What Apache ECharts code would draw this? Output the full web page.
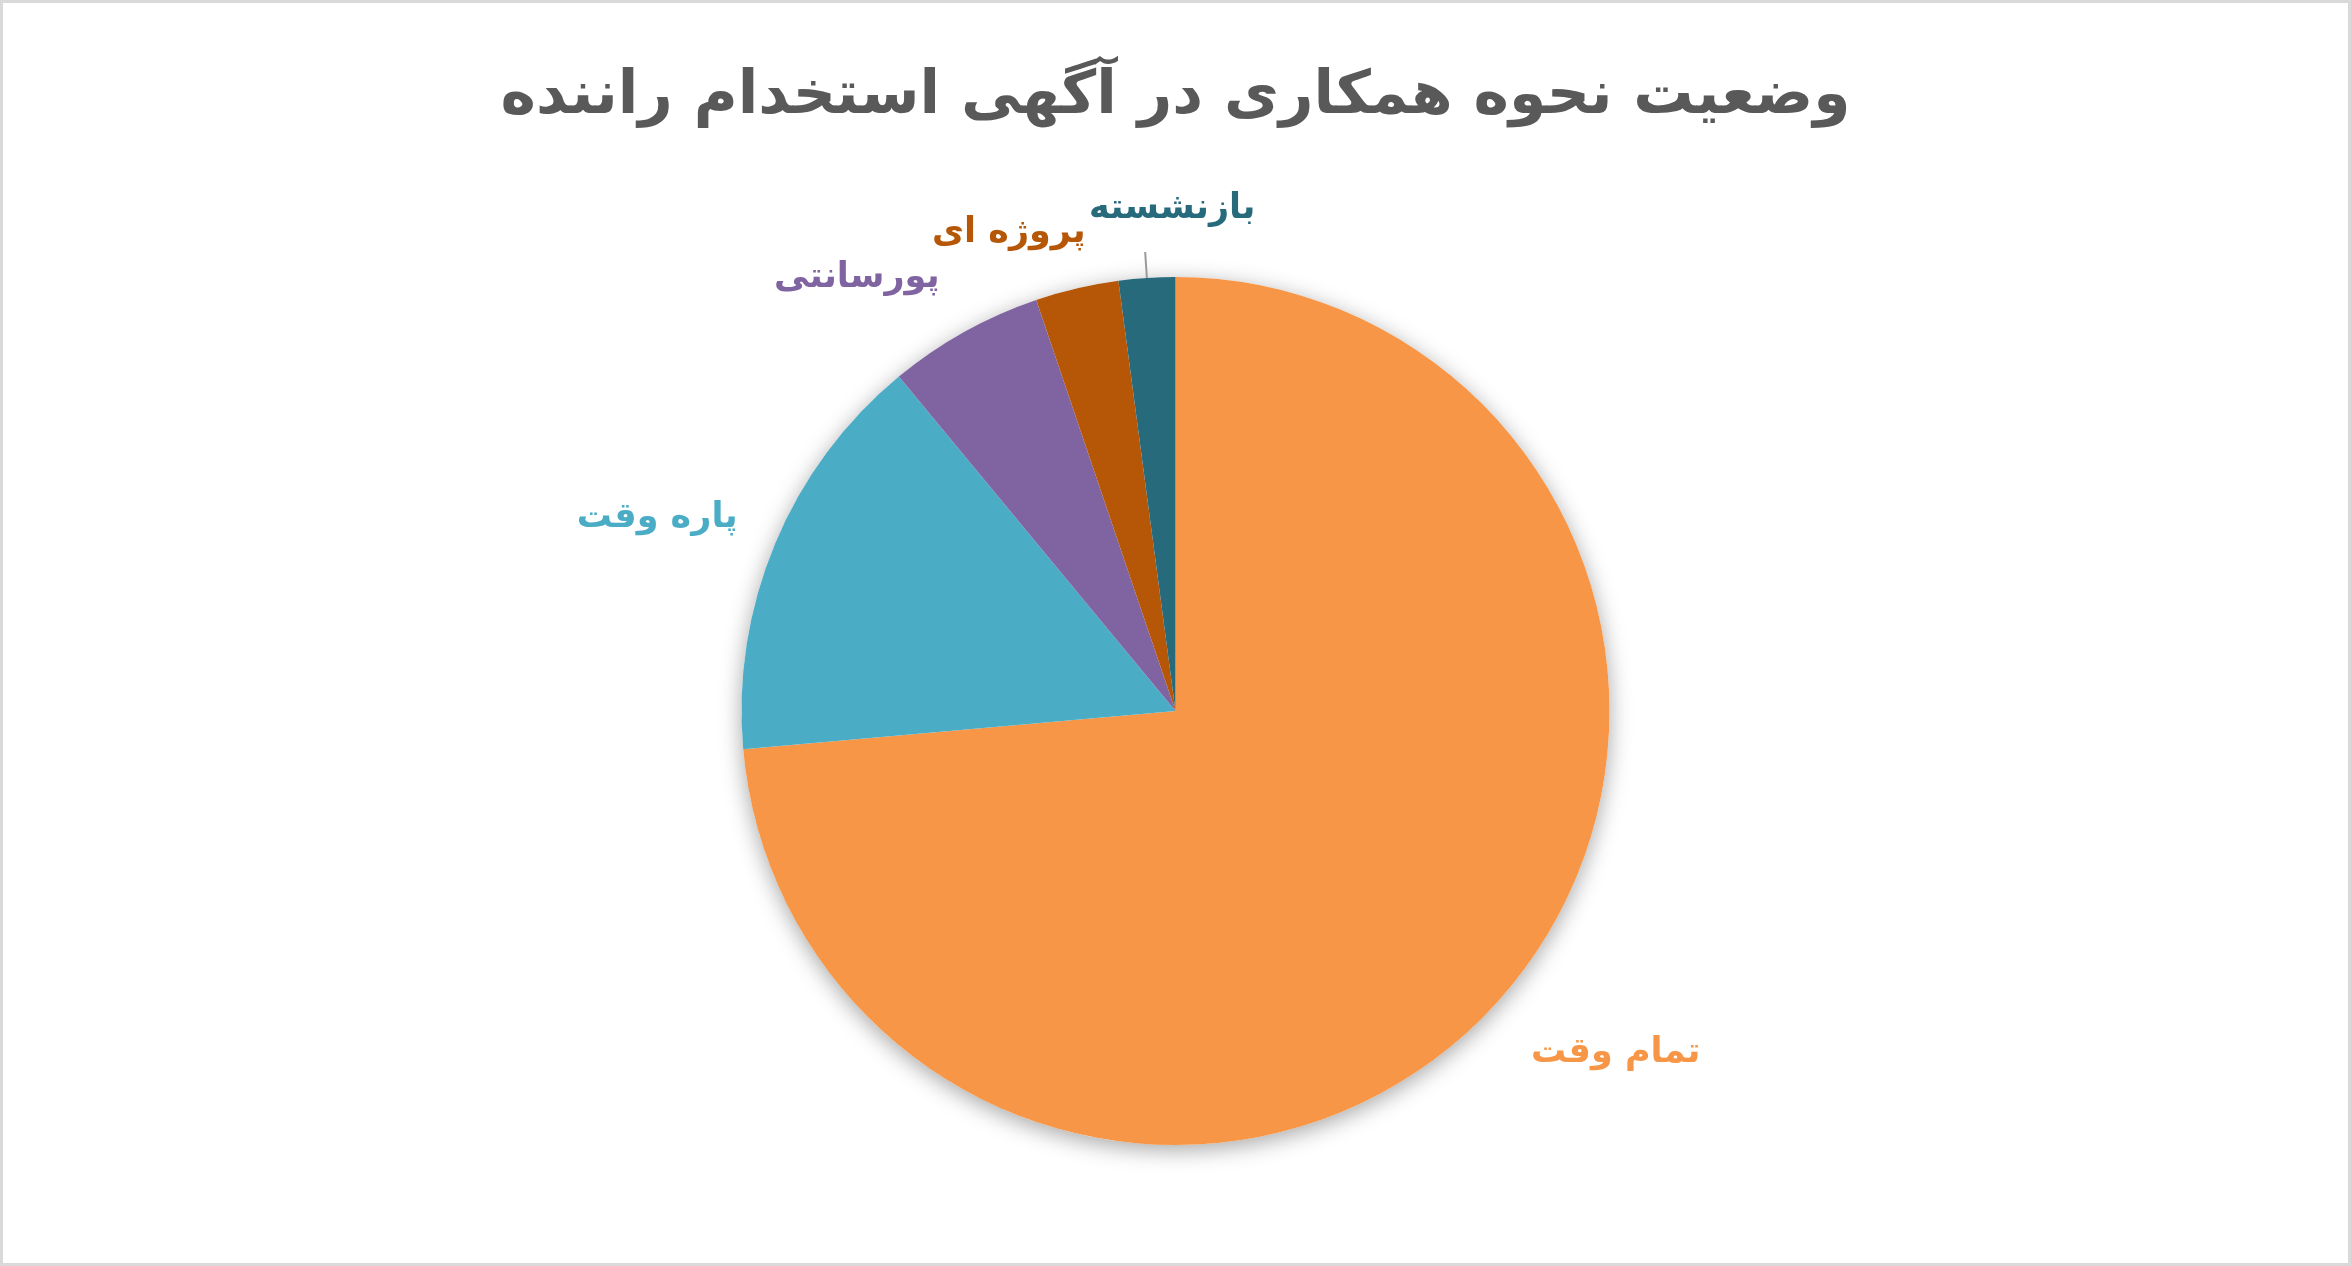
<!DOCTYPE html>
<html>
<head>
<meta charset="utf-8">
<title>وضعیت نحوه همکاری در آگهی استخدام راننده</title>
<script src="https://cdn.jsdelivr.net/npm/echarts@6/dist/echarts.min.js"></script>
<style>
  html, body { margin: 0; padding: 0; background: #fff; }
  #chart { width: 2351px; height: 1266px; }
</style>
</head>
<body>
<div id="chart"></div>
<script>
// داده‌ها (درصد، خوانده شده از تصویر)
const categories = ['تمام وقت', 'پاره وقت', 'پورسانتی', 'پروژه ای', 'بازنشسته'];
const values = [73.6, 15.4, 5.8, 3.1, 2.1];
const colors = ['#F79646', '#4BACC6', '#8064A2', '#B65708', '#276A7C'];

// طول خط راهنما برای جای برچسب‌ها (شبیه best fit اکسل)
const lineLen = [72, 66, 62, 57, 26];
const lineLen2 = [62, 52, 72, 50, 0];

const FONT = 'DejaVu Sans';
const chart = echarts.init(document.getElementById('chart'));

const pieData = categories.map(function (name, i) {
  return {
    name: name,
    value: values[i],
    itemStyle: { color: colors[i] },
    label: { color: colors[i] },
    labelLine: {
      show: i === 4,
      length: lineLen[i],
      length2: lineLen2[i],
      lineStyle: { color: '#9A9A9A', width: 2 }
    }
  };
});

const option = {
  backgroundColor: '#fff',
  animation: false,
  title: {
    text: 'وضعیت نحوه همکاری در آگهی استخدام راننده',
    left: 'center',
    top: 62,
    textStyle: {
      fontFamily: FONT,
      fontWeight: 'bold',
      fontSize: 60,
      color: '#595959'
    }
  },
  graphic: [{
    type: 'rect',
    shape: { x: 1.5, y: 1.5, width: 2348, height: 1263 },
    style: { fill: 'none', stroke: '#D9D9D9', lineWidth: 3 },
    silent: true
  }],
  series: [
    {
      // سایه زیر دایره
      type: 'pie',
      silent: true,
      center: ['50%', 711],
      radius: 434,
      z: 1,
      label: { show: false },
      labelLine: { show: false },
      data: [{
        value: 1,
        itemStyle: {
          color: '#fff',
          shadowBlur: 22,
          shadowColor: 'rgba(0,0,0,0.35)',
          shadowOffsetY: 5
        }
      }]
    },
    {
      type: 'pie',
      center: ['50%', 711],
      radius: 434,
      z: 2,
      startAngle: 90,
      clockwise: true,
      avoidLabelOverlap: false,
      label: {
        show: true,
        position: 'outside',
        formatter: '{b}',
        fontFamily: FONT,
        fontWeight: 'bold',
        fontSize: 35
      },
      labelLayout: function (p) {
        const o = { align: 'center' };
        if (p.dataIndex === 4) {
          o.verticalAlign = 'bottom';
          o.dx = 32;
          o.dy = -26;
        }
        return o;
      },
      itemStyle: { borderWidth: 0 },
      emphasis: { disabled: true },
      data: pieData
    }
  ]
};

chart.setOption(option);
</script>
</body>
</html>
